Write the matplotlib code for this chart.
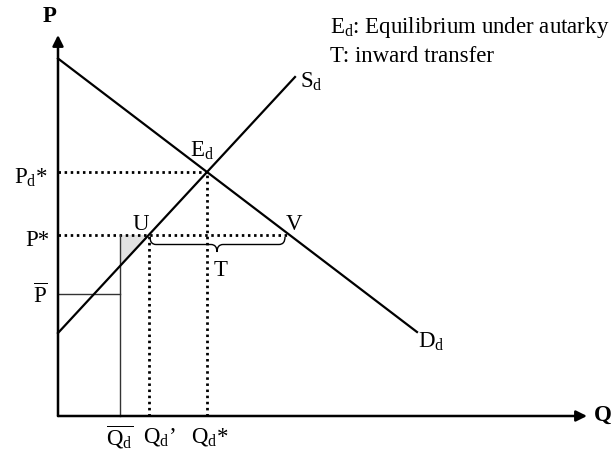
import numpy as np
import matplotlib
matplotlib.use("Agg")
import matplotlib.pyplot as plt
from matplotlib.path import Path
from matplotlib.patches import PathPatch

plt.rcParams['font.family'] = ['Liberation Serif', 'DejaVu Serif']
plt.rcParams['mathtext.fontset'] = 'custom'
plt.rcParams['mathtext.rm'] = 'Liberation Serif'
plt.rcParams['mathtext.it'] = 'Liberation Serif:italic'

# Kurwy popytu i podazy (Q, P)
demand_q = [0.0, 7.18]
demand_p = [7.15, 1.68]
supply_q = [0.0, 4.74]
supply_p = [1.66, 6.78]

# Punkty charakterystyczne
Q_star = 2.98    # Qd*
P_d_star = 4.88  # Pd*
P_star = 3.62    # P*
Q_prime = 1.82   # Qd'
Q_V = 4.64       # punkt V
Q_bar = 1.24
P_bar = 2.44
P_sup_at_Qbar = 3.0

# Osie
Q_max = 10.58
P_max = 7.62

fig = plt.figure(figsize=(6.13, 4.58), dpi=100)
ax = fig.add_axes([0, 0, 1, 1])
ax.set_xlim(-1.16, 11.1)
ax.set_ylim(-0.84, 8.32)
ax.axis('off')

# strzalki osi
ax.annotate('', xy=(Q_max, 0), xytext=(0, 0),
            arrowprops=dict(arrowstyle='-|>', color='black', lw=1.8,
                            mutation_scale=16, shrinkA=0, shrinkB=0))
ax.annotate('', xy=(0, P_max), xytext=(0, 0),
            arrowprops=dict(arrowstyle='-|>', color='black', lw=1.8,
                            mutation_scale=16, shrinkA=0, shrinkB=0))

# szary trojkat
ax.fill([Q_bar, Q_prime, Q_bar], [P_star, P_star, P_sup_at_Qbar],
        color='#e2e2e2', lw=0, zorder=1)

# popyt i podaz
ax.plot(demand_q, demand_p, color='black', lw=1.6, zorder=3)
ax.plot(supply_q, supply_p, color='black', lw=1.6, zorder=3)

# linie kropkowane
dot = dict(color='black', lw=2.0, linestyle=(0, (0.9, 1.3)), zorder=2)
ax.plot([0, Q_star], [P_d_star, P_d_star], **dot)
ax.plot([Q_star, Q_star], [0, P_d_star], **dot)
ax.plot([0, Q_V], [P_star, P_star], **dot)
ax.plot([Q_prime, Q_prime], [0, P_star], **dot)

# cienkie linie ciagle
ax.plot([0, Q_bar], [P_bar, P_bar], color='#333333', lw=1.0, zorder=2)
ax.plot([Q_bar, Q_bar], [0, P_star], color='#333333', lw=1.0, zorder=2)

# klamra T
def brace(ax, x0, x1, y, h, tip):
    r = 0.12
    ym = y - h / 2
    verts = [(x0, y), (x0, ym), (x0 + r, ym),
             (tip - r, ym),
             (tip, ym), (tip, y - h),
             (tip, ym), (tip + r, ym),
             (x1 - r, ym),
             (x1, ym), (x1, y)]
    codes = [Path.MOVETO, Path.CURVE3, Path.CURVE3,
             Path.LINETO,
             Path.CURVE3, Path.CURVE3,
             Path.CURVE3, Path.CURVE3,
             Path.LINETO,
             Path.CURVE3, Path.CURVE3]
    ax.add_patch(PathPatch(Path(verts, codes), fill=False, color='black',
                           lw=1.0, zorder=3))

brace(ax, Q_prime + 0.02, Q_V - 0.1, P_star - 0.04, 0.3, 3.18)

fs = 16.5
# etykiety osi
ax.text(-0.16, 8.0, 'P', fontsize=fs, fontweight='bold', ha='center', va='center')
ax.text(10.9, 0.02, 'Q', fontsize=fs, fontweight='bold', ha='center', va='center')

# etykiety na osi P
ax.text(-0.2, P_d_star - 0.12, r'P$_\mathrm{d}$*', fontsize=fs, ha='right', va='center')
ax.text(-0.16, P_star - 0.1, 'P*', fontsize=fs, ha='right', va='center')
ax.text(-0.2, P_bar - 0.05, r'$\overline{\mathrm{P}}$', fontsize=fs, ha='right', va='center')

# etykiety na osi Q
ax.text(Q_bar, -0.42, r'$\overline{\mathrm{Q_d}}$', fontsize=fs, ha='center', va='center')
ax.text(Q_prime + 0.2, -0.42, r'Q$_\mathrm{d}$’', fontsize=fs, ha='center', va='center')
ax.text(Q_star + 0.05, -0.42, r'Q$_\mathrm{d}$*', fontsize=fs, ha='center', va='center')

# punkty
ax.text(1.66, 3.82, 'U', fontsize=fs, ha='center', va='center')
ax.text(4.72, 3.84, 'V', fontsize=fs, ha='center', va='center')
ax.text(3.26, 2.92, 'T', fontsize=fs, ha='center', va='center')
ax.text(2.88, 5.3, r'E$_\mathrm{d}$', fontsize=fs, ha='center', va='center')
ax.text(4.84, 6.68, r'S$_\mathrm{d}$', fontsize=fs, ha='left', va='center')
ax.text(7.2, 1.48, r'D$_\mathrm{d}$', fontsize=fs, ha='left', va='center')

# legenda
ax.text(5.44, 7.78, r'E$_\mathrm{d}$: Equilibrium under autarky', fontsize=fs,
        ha='left', va='center')
ax.text(5.44, 7.2, 'T: inward transfer', fontsize=fs, ha='left', va='center')

plt.savefig('out.png', dpi=100)
